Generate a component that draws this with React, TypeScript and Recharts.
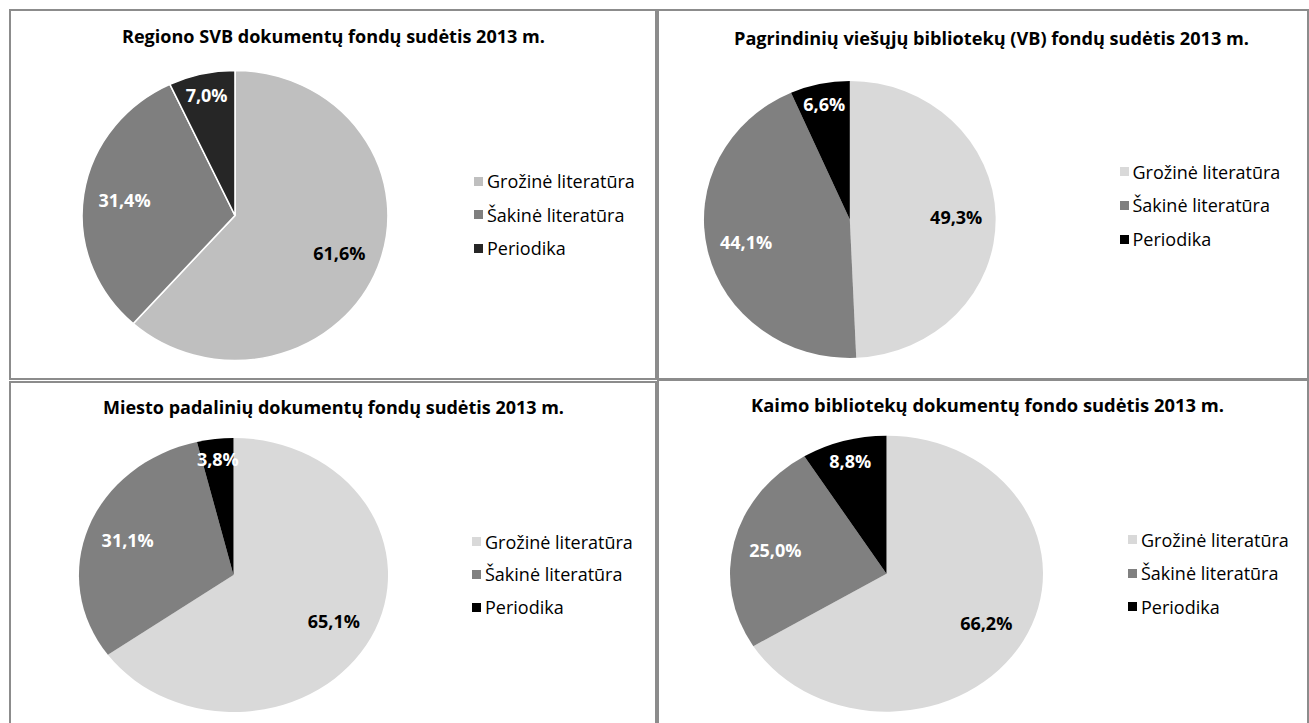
import { Cell, Legend, Pie, PieChart } from "recharts"

const categories = ["Grožinė literatūra", "Šakinė literatūra", "Periodika"]

const regionoValues = [61.6, 31.4, 7.0]
const pagrindiniuValues = [49.3, 44.1, 6.6]
const miestoValues = [65.1, 31.1, 3.8]
const kaimoValues = [66.2, 25.0, 8.8]

const titles = [
  "Regiono SVB dokumentų fondų sudėtis 2013 m.",
  "Pagrindinių viešųjų bibliotekų (VB) fondų sudėtis 2013 m.",
  "Miesto padalinių dokumentų fondų sudėtis 2013 m.",
  "Kaimo bibliotekų dokumentų fondo sudėtis 2013 m.",
]

const greysA = ["#bfbfbf", "#7f7f7f", "#262626"]
const greysB = ["#d9d9d9", "#808080", "#000000"]

const FONT = "'Open Sans', 'DejaVu Sans', sans-serif"
const RADIAN = Math.PI / 180

// layout of the four boxes (page px), sx = horizontal stretch of the pie
const panels = [
  { id: "p1", title: titles[0], values: regionoValues, colors: greysA, stroke: "#ffffff",
    left: 9, top: 9, w: 648, h: 371, cx: 226, cy: 206.5, r: 145, sx: 1.055,
    titleX: 324.5, titleY: 33.5, titleW: 423, legX: 465, legY: 155.5, rowH: 33.5 },
  { id: "p2", title: titles[1], values: pagrindiniuValues, colors: greysB, stroke: "none",
    left: 657, top: 9, w: 652, h: 371, cx: 192.8, cy: 210.5, r: 138.5, sx: 1.053,
    titleX: 334.5, titleY: 35.5, titleW: 515, legX: 462.5, legY: 145.8, rowH: 33.8 },
  { id: "p3", title: titles[2], values: miestoValues, colors: greysB, stroke: "none",
    left: 9, top: 381, w: 648, h: 360, cx: 224.5, cy: 194, r: 137, sx: 1.128,
    titleX: 324.5, titleY: 32.5, titleW: 461, legX: 463, legY: 144.3, rowH: 32.8 },
  { id: "p4", title: titles[3], values: kaimoValues, colors: greysB, stroke: "none",
    left: 657, top: 379, w: 652, h: 360, cx: 229.5, cy: 194.7, r: 138, sx: 1.134,
    titleX: 330.5, titleY: 32.5, titleW: 473, legX: 471, legY: 144.3, rowH: 33.3 },
]

const fmt = (v: number) => v.toFixed(1).replace(".", ",") + "%"

function Panel({ cfg }: any) {
  const data = categories.map((name, i) => ({ name, value: cfg.values[i] }))

  const renderLabel = (p: any) => {
    const k = p.percent < 0.1 ? 0.85 : 0.73
    const rr = p.outerRadius * k
    const x = p.cx + rr * Math.cos(-p.midAngle * RADIAN) * cfg.sx
    const y = p.cy + rr * Math.sin(-p.midAngle * RADIAN)
    return (
      <text
        x={x}
        y={y}
        textAnchor="middle"
        dominantBaseline="central"
        fill={p.index === 0 ? "#000000" : "#ffffff"}
        fontFamily={FONT}
        fontWeight={700}
        fontSize={18}
      >
        {fmt(p.value)}
      </text>
    )
  }

  // keep the legend in the data order (recharts sorts the payload by name)
  const renderLegend = (props: any) => {
    const payload = props.payload ?? []
    const items = categories.map((name, i) => {
      const hit = payload.find((it: any) => it.value === name)
      return { name, color: hit?.color ?? cfg.colors[i] }
    })
    return (
      <div style={{ fontFamily: FONT, fontSize: 18, color: "#000" }}>
        {items.map((it, i) => (
          <div key={i} style={{ display: "flex", alignItems: "center", height: cfg.rowH, whiteSpace: "nowrap" }}>
            <span style={{ width: 9, height: 9, background: cfg.colors[i], marginRight: 4, flex: "none" }} />
            <span style={{ lineHeight: 1 }}>{it.name}</span>
          </div>
        ))}
      </div>
    )
  }

  return (
    <>
      <div
        style={{
          position: "absolute",
          left: cfg.left,
          top: cfg.top,
          width: cfg.w,
          height: cfg.h,
          boxSizing: "border-box",
          border: "2px solid #8c8c8c",
          background: "#fff",
        }}
      />
      <div className={cfg.id} style={{ position: "absolute", left: cfg.left, top: cfg.top }}>
        <PieChart width={cfg.w} height={cfg.h} margin={{ top: 0, right: 0, bottom: 0, left: 0 }}>
          <Pie
            data={data}
            dataKey="value"
            nameKey="name"
            cx={cfg.cx}
            cy={cfg.cy}
            outerRadius={cfg.r}
            startAngle={90}
            endAngle={-270}
            stroke={cfg.stroke}
            strokeWidth={cfg.stroke === "none" ? 0 : 1.5}
            label={renderLabel}
            labelLine={false}
            isAnimationActive={false}
          >
            {data.map((d, i) => (
              <Cell key={d.name} fill={cfg.colors[i]} />
            ))}
          </Pie>
          <Legend
            layout="vertical"
            align="center"
            verticalAlign="middle"
            content={renderLegend}
            wrapperStyle={{ left: cfg.legX, top: cfg.legY, width: "auto" }}
          />
        </PieChart>
      </div>
      <svg
        width={cfg.w}
        height={50}
        style={{ position: "absolute", left: cfg.left, top: cfg.top, overflow: "visible" }}
      >
        <text
          x={cfg.titleX}
          y={cfg.titleY}
          textAnchor="middle"
          textLength={cfg.titleW}
          lengthAdjust="spacingAndGlyphs"
          fontFamily={FONT}
          fontWeight={700}
          fontSize={17.5}
          fill="#000"
        >
          {cfg.title}
        </text>
      </svg>
    </>
  )
}

export default function App() {
  const css = panels
    .map(
      (p) =>
        `.${p.id} .recharts-sector { transform-origin: ${p.cx}px ${p.cy}px; transform: scaleX(${p.sx}); }`
    )
    .join("\n")

  return (
    <div
      style={{
        position: "absolute",
        left: 0,
        top: 0,
        width: 1309,
        height: 723,
        background: "#fff",
        overflow: "hidden",
      }}
    >
      <style>{css}</style>
      {panels.map((p) => (
        <Panel key={p.id} cfg={p} />
      ))}
    </div>
  )
}
